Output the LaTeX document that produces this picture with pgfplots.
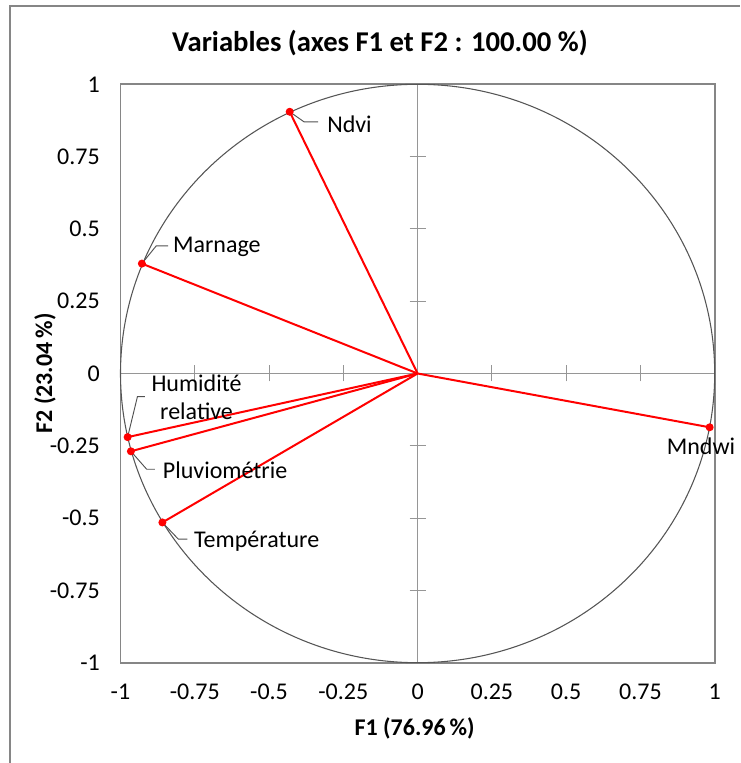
\documentclass[border=0pt]{standalone}
\usepackage{pgfplots}
\pgfplotsset{compat=1.18}
\usepackage{fontspec}
\setmainfont{Carlito}

\definecolor{framegray}{RGB}{134,134,134}
\definecolor{midgray}{RGB}{150,150,150}
\definecolor{circgray}{RGB}{85,85,85}
\definecolor{leadgray}{RGB}{80,80,80}

\newcommand{\lblfont}{\fontsize{18}{21}\selectfont}

\begin{document}
\begin{tikzpicture}
% centre axes with crossing tick marks (drawn first, stays behind)
\begin{axis}[at={(0,0)}, anchor=south west, scale only axis,
  width=445.65pt, height=433.8pt,
  xmin=-1, xmax=1, ymin=-1, ymax=1,
  axis lines=middle, axis line style={-, draw=midgray, line width=0.75pt},
  xtick={-0.75,-0.5,-0.25,0.25,0.5,0.75}, ytick={-0.75,-0.5,-0.25,0.25,0.5,0.75},
  xticklabels={}, yticklabels={},
  tick align=center, major tick length=12pt,
  tick style={draw=midgray, line width=0.75pt}]
\addplot[draw=none, forget plot] coordinates {(0,0)};
\end{axis}

% main axis: frame, tick labels, circle, vectors
\begin{axis}[at={(0,0)}, anchor=south west, scale only axis,
  width=445.65pt, height=433.8pt,
  xmin=-1, xmax=1, ymin=-1, ymax=1, clip=false,
  axis line style={draw=framegray, line width=1.3pt},
  xtick={-1,-0.75,-0.5,-0.25,0,0.25,0.5,0.75,1},
  ytick={-1,-0.75,-0.5,-0.25,0,0.25,0.5,0.75,1},
  xticklabels={-1,-0.75,-0.5,-0.25,0,0.25,0.5,0.75,1},
  yticklabels={-1,-0.75,-0.5,-0.25,0,0.25,0.5,0.75,1},
  major tick length=0pt,
  tick label style={font=\lblfont},
  xticklabel style={yshift=-12.75pt},
  yticklabel style={xshift=-12pt}]
% correlation circle
\draw[circgray, line width=0.8pt] (axis cs:0,0) ellipse [x radius=1, y radius=1];
% variables
\addplot[red, line width=1.5pt, mark=*, mark indices={2}, mark size=2.2pt] coordinates {(0,0) (-0.4305,0.905)};   % Ndvi
\addplot[red, line width=1.5pt, mark=*, mark indices={2}, mark size=2.2pt] coordinates {(0,0) (-0.928,0.380)};    % Marnage
\addplot[red, line width=1.5pt, mark=*, mark indices={2}, mark size=2.2pt] coordinates {(0,0) (-0.976,-0.220)};   % Humidite relative
\addplot[red, line width=1.5pt, mark=*, mark indices={2}, mark size=2.2pt] coordinates {(0,0) (-0.965,-0.269)};   % Pluviometrie
\addplot[red, line width=1.5pt, mark=*, mark indices={2}, mark size=2.2pt] coordinates {(0,0) (-0.859,-0.515)};   % Temperature
\addplot[red, line width=1.5pt, mark=*, mark indices={2}, mark size=2.2pt] coordinates {(0,0) (0.983,-0.186)};    % Mndwi
% leader lines and labels
\draw[leadgray, line width=0.7pt] (axis cs:-0.4305,0.905) -- (axis cs:-0.382,0.870) -- (axis cs:-0.335,0.870);
\node[anchor=west, font=\lblfont, inner sep=0pt] at (axis cs:-0.305,0.862) {Ndvi};
\draw[leadgray, line width=0.7pt] (axis cs:-0.928,0.380) -- (axis cs:-0.880,0.441) -- (axis cs:-0.840,0.441);
\node[anchor=west, font=\lblfont, inner sep=0pt] at (axis cs:-0.824,0.438) {Marnage};
\draw[leadgray, line width=0.7pt] (axis cs:-0.976,-0.220) -- (axis cs:-0.943,-0.080) -- (axis cs:-0.918,-0.080);
\node[align=center, font=\lblfont, inner sep=0pt] at (axis cs:-0.744,-0.083) {Humidité\\relative};
\draw[leadgray, line width=0.7pt] (axis cs:-0.965,-0.269) -- (axis cs:-0.912,-0.331) -- (axis cs:-0.884,-0.331);
\node[anchor=west, font=\lblfont, inner sep=0pt] at (axis cs:-0.858,-0.336) {Pluviométrie};
\draw[leadgray, line width=0.7pt] (axis cs:-0.859,-0.515) -- (axis cs:-0.805,-0.573) -- (axis cs:-0.775,-0.573);
\node[anchor=west, font=\lblfont, inner sep=0pt] at (axis cs:-0.753,-0.579) {Température};
\node[anchor=east, font=\lblfont, inner sep=0pt] at (axis cs:1.07,-0.251) {Mndwi};
% titles
\node[font=\fontsize{21.5}{25}\selectfont\bfseries] at (axis cs:-0.1266,1.143) {Variables (axes F1 et F2 : 100.00 \%)};
\node[font=\lblfont\bfseries] at (axis cs:-0.01,-1.226) {F1 (76.96\,\%)};
\node[font=\lblfont\bfseries, rotate=90] at (axis cs:-1.254,0) {F2 (23.04\,\%)};
\end{axis}

% outer chart frame (top and left edges visible)
\draw[framegray, line width=0.8pt] (-82.875pt,-75.225pt) -- (-82.875pt,492.525pt) -- (464.625pt,492.525pt);
\pgfresetboundingbox
\path[use as bounding box] (-90.375pt,-75.225pt) rectangle (464.625pt,497.025pt);
\end{tikzpicture}
\end{document}
